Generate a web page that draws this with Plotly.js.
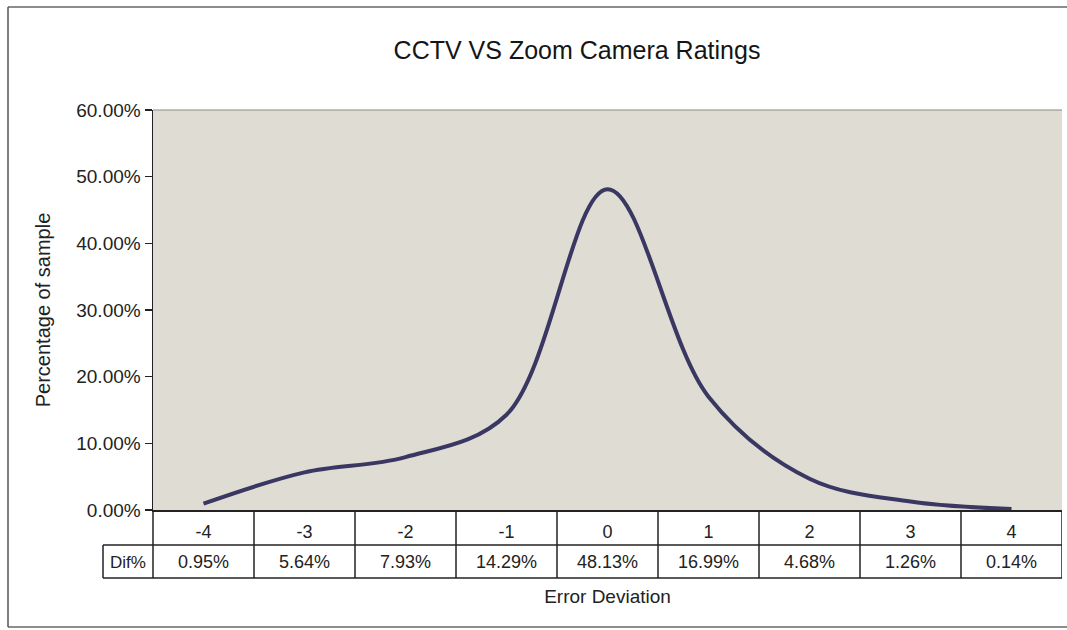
<!DOCTYPE html>
<html>
<head>
<meta charset="utf-8">
<script src="https://cdn.plot.ly/plotly-3.0.1.min.js"></script>
<style>html,body{margin:0;padding:0;background:#fff;}#chart{width:1067px;height:630px;}</style>
</head>
<body>
<div id="chart"></div>
<script>
// ---- data ----
const categories = [-4, -3, -2, -1, 0, 1, 2, 3, 4];
const difPct = [0.95, 5.64, 7.93, 14.29, 48.13, 16.99, 4.68, 1.26, 0.14];
const rowHeader = 'Dif%';
const chartTitle = 'CCTV VS Zoom Camera Ratings';
const yTitle = 'Percentage of sample';
const xTitle = 'Error Deviation';

// ---- geometry helpers (pixel -> paper) ----
const W = 1067, H = 630;
const M = {l: 153, r: 5, t: 110, b: 120};
const PW = W - M.l - M.r, PH = H - M.t - M.b;
const xp = px => (px - M.l) / PW;
const yp = py => (H - M.b - py) / PH;

const FONT = 'Arial, "Liberation Sans", sans-serif';
const INK = '#222222';
const lineCol = '#3a3762';

const shapes = [];
const annotations = [];
const xMin = categories[0] - 0.5, xMax = categories[categories.length - 1] + 0.5;

// outer chart border (right side runs off the picture)
shapes.push({type: 'line', xref: 'paper', yref: 'paper', x0: xp(8), x1: xp(1067), y0: yp(7), y1: yp(7), line: {color: '#666', width: 1.5}});
shapes.push({type: 'line', xref: 'paper', yref: 'paper', x0: xp(8), x1: xp(1067), y0: yp(627), y1: yp(627), line: {color: '#666', width: 1.5}});
shapes.push({type: 'line', xref: 'paper', yref: 'paper', x0: xp(8), x1: xp(8), y0: yp(627), y1: yp(7), line: {color: '#555', width: 1.5}});
// plot area top border
shapes.push({type: 'line', xref: 'paper', yref: 'paper', x0: 0, x1: 1, y0: 1, y1: 1, line: {color: '#8a8a86', width: 1}});

// data table lines
const rowMid = 545, rowBot = 578;
shapes.push({type: 'line', xref: 'paper', yref: 'paper', x0: 0, x1: 0, y0: yp(rowBot), y1: 0, line: {color: INK, width: 1.5}});
shapes.push({type: 'line', xref: 'paper', yref: 'paper', x0: xp(103), x1: 1, y0: yp(rowMid), y1: yp(rowMid), line: {color: INK, width: 1.5}});
shapes.push({type: 'line', xref: 'paper', yref: 'paper', x0: xp(103), x1: 1, y0: yp(rowBot), y1: yp(rowBot), line: {color: INK, width: 1.5}});
shapes.push({type: 'line', xref: 'paper', yref: 'paper', x0: xp(103), x1: xp(103), y0: yp(rowBot), y1: yp(rowMid), line: {color: INK, width: 1.5}});
categories.forEach((c) => {
  shapes.push({type: 'line', xref: 'x', yref: 'paper', x0: c + 0.5, x1: c + 0.5, y0: yp(rowBot), y1: 0, line: {color: INK, width: 1.5}});
});

// table values
categories.forEach((c, i) => {
  annotations.push({xref: 'x', yref: 'paper', x: c, y: yp(562), text: difPct[i].toFixed(2) + '%',
    showarrow: false, xanchor: 'center', yanchor: 'middle', font: {family: FONT, size: 18, color: INK}});
});
annotations.push({xref: 'paper', yref: 'paper', x: xp(128), y: yp(562), text: rowHeader,
  showarrow: false, xanchor: 'center', yanchor: 'middle', font: {family: FONT, size: 17, color: INK}});

const trace = {
  x: categories, y: difPct, type: 'scatter', mode: 'lines',
  line: {color: lineCol, width: 4, shape: 'spline', smoothing: 1},
  hoverinfo: 'x+y', showlegend: false
};

const layout = {
  width: W, height: H,
  margin: M,
  paper_bgcolor: '#ffffff',
  plot_bgcolor: '#dedcd3',
  title: {text: chartTitle, x: 577 / W, xanchor: 'center', y: 1 - 50 / H, yanchor: 'middle',
    font: {family: FONT, size: 25, color: '#151515'}},
  xaxis: {
    range: [xMin, xMax], tickmode: 'array', tickvals: categories, ticktext: categories.map(String),
    ticks: 'outside', ticklen: 5, tickcolor: 'rgba(0,0,0,0)',
    showgrid: false, zeroline: false, showline: true, linecolor: INK, linewidth: 1.5,
    tickfont: {family: FONT, size: 18, color: INK},
    title: {text: xTitle, standoff: 48, font: {family: FONT, size: 19, color: INK}},
    automargin: false, fixedrange: true
  },
  yaxis: {
    range: [0, 60], dtick: 10, tickformat: '.2f', ticksuffix: '%',
    ticks: 'outside', ticklen: 7, tickcolor: INK, tickwidth: 1.2,
    showgrid: false, zeroline: false, showline: true, linecolor: INK, linewidth: 1.5,
    tickfont: {family: FONT, size: 19, color: INK},
    title: {text: yTitle, standoff: 20, font: {family: FONT, size: 20, color: INK}},
    automargin: false, fixedrange: true
  },
  shapes: shapes,
  annotations: annotations
};

Plotly.newPlot('chart', [trace], layout, {displayModeBar: false, staticPlot: true});
</script>
</body>
</html>
